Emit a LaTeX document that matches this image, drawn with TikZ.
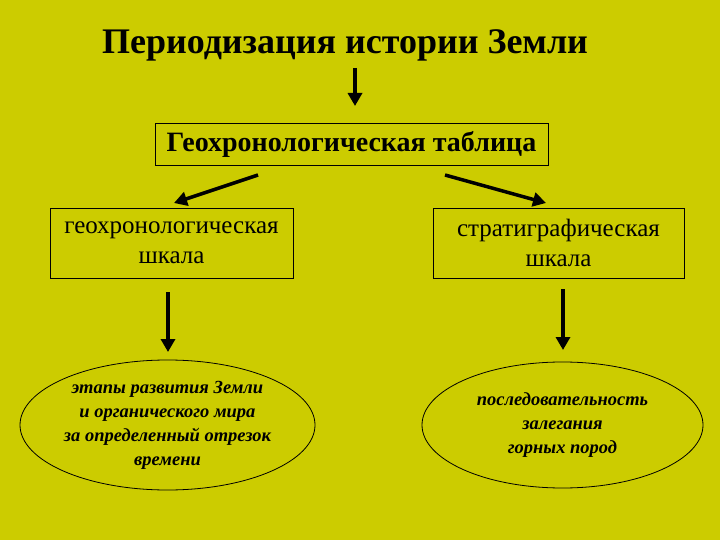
\documentclass[tikz,border=0pt]{standalone}
\usepackage{fontspec}
\setmainfont{Liberation Serif}
\usetikzlibrary{arrows.meta,shapes.geometric}
\definecolor{bg}{RGB}{204,204,0}
\begin{document}
\begin{tikzpicture}[x=1pt,y=-1pt,
  arr/.style={line width=3.5pt,-{Triangle[length=13pt,width=14pt]}},
  boxn/.style={draw,line width=0.8pt,inner sep=0pt,align=center},
  ell/.style={draw,line width=0.8pt,ellipse,inner sep=-4pt,align=center,font=\fontsize{18.5}{24}\selectfont\bfseries\itshape}]
\fill[bg] (0,0) rectangle (720,540);
\useasboundingbox (0,0) rectangle (720,540);
\node (title) at (345,45) {\fontsize{36}{40}\selectfont\bfseries Периодизация истории Земли};
\node[boxn,minimum width=393pt,minimum height=42pt,font=\fontsize{28}{32}\selectfont\bfseries] (tab) at (351.5,144) {Геохронологическая таблица};
\node[boxn,minimum width=243pt,minimum height=70pt,font=\fontsize{25}{30}\selectfont] (l) at (171.5,243) {геохронологическая\\шкала};
\node[boxn,minimum width=251pt,minimum height=70pt,font=\fontsize{25}{30}\selectfont] (r) at (558.5,243) {стратиграфическая\\шкала};
\node[ell,minimum width=295pt,minimum height=130pt] (le) at (167.5,425) {этапы развития Земли\\и органического мира\\за определенный отрезок\\времени};
\node[ell,minimum width=281pt,minimum height=126pt] (re) at (562.5,425) {последовательность\\залегания\\горных пород};
\coordinate (a1) at (355,68); \coordinate (a2) at (355,106);
\draw[arr] (a1) -- (a2);
\coordinate (b1) at (258,175); \coordinate (b2) at (174,203);
\draw[arr] (b1) -- (b2);
\coordinate (c1) at (445,175); \coordinate (c2) at (546,203);
\draw[arr] (c1) -- (c2);
\coordinate (d1) at (168,292); \coordinate (d2) at (168,352);
\draw[arr] (d1) -- (d2);
\coordinate (e1) at (563,289); \coordinate (e2) at (563,350);
\draw[arr] (e1) -- (e2);
\end{tikzpicture}
\end{document}
